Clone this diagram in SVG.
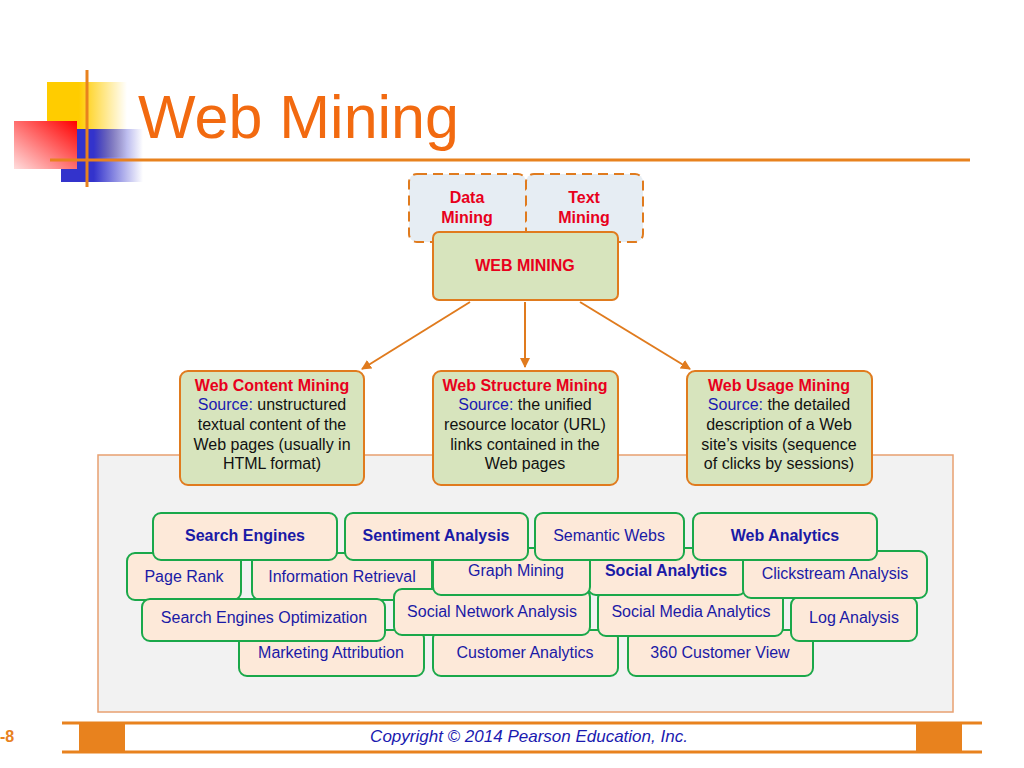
<svg xmlns="http://www.w3.org/2000/svg" width="1024" height="768" viewBox="0 0 1024 768">
<defs>
<linearGradient id="gy" x1="0" x2="1" y1="0" y2="0"><stop offset="0.4" stop-color="#ffcc00"/><stop offset="1" stop-color="#ffcc00" stop-opacity="0"/></linearGradient>
<linearGradient id="gb" x1="0" x2="1" y1="0" y2="0"><stop offset="0.4" stop-color="#3333cc"/><stop offset="1" stop-color="#3333cc" stop-opacity="0"/></linearGradient>
<linearGradient id="gr" x1="1" x2="0" y1="0" y2="1"><stop offset="0" stop-color="#ff0000"/><stop offset="1" stop-color="#ffdddd"/></linearGradient>
<marker id="ar" viewBox="0 0 10 10" refX="9" refY="5" markerWidth="5" markerHeight="5" orient="auto"><path d="M0,0L10,5L0,10z" fill="#e07b1e"/></marker>
<style>
text{font-family:"Liberation Sans",Arial,sans-serif;}
.g rect{fill:#fde9d9;stroke:#1aa84a;stroke-width:2}
.g text{fill:#1a1aa6;font-size:16px;text-anchor:middle}
.g .b{font-weight:bold}
.m rect{fill:#d7e4bd;stroke:#e07b1e;stroke-width:2}
.m text{font-size:16px;text-anchor:middle;fill:#111}
.m .h{fill:#e8001c;font-weight:bold}
.m .s{fill:#1a1ab0}
.c line{stroke:#e07b1e;stroke-width:2;marker-end:url(#ar)}
</style>
</defs>
<rect width="1024" height="768" fill="#fff"/>
<rect x="47" y="82" width="80" height="75" fill="url(#gy)"/>
<rect x="61" y="129" width="82" height="53" fill="url(#gb)"/>
<rect x="14" y="121" width="63" height="48" fill="url(#gr)"/>
<line x1="87" y1="70" x2="87" y2="187" stroke="#e8821e" stroke-width="3"/>
<line x1="50" y1="160" x2="970" y2="160" stroke="#e8821e" stroke-width="3"/>
<text x="138" y="138" font-size="61" fill="#f26a10">Web Mining</text>
<rect x="98" y="455" width="855" height="257" fill="#f2f2f2" stroke="#e8a070" stroke-width="1.5"/>
<g id="data-mining" class="m"><rect x="409" y="174" width="117" height="68" rx="8" style="fill:#e6edf3;stroke-dasharray:10,6"/><text x="467" y="203" class="h">Data</text><text x="467" y="223" class="h">Mining</text></g>
<g id="text-mining" class="m"><rect x="526" y="174" width="117" height="68" rx="8" style="fill:#e6edf3;stroke-dasharray:10,6"/><text x="584" y="203" class="h">Text</text><text x="584" y="223" class="h">Mining</text></g>
<g id="web-mining" class="m"><rect x="433" y="232" width="185" height="68" rx="6"/><text x="525" y="271" class="h">WEB MINING</text></g>
<g class="c" id="connectors">
<line x1="470" y1="302" x2="362" y2="369"/>
<line x1="525" y1="302" x2="525" y2="367"/>
<line x1="580" y1="302" x2="690" y2="369"/>
</g>
<g id="content" class="m"><rect x="180" y="371" width="184" height="114" rx="8"/><text x="272" y="391" class="h">Web Content Mining</text><text x="272" y="410"><tspan class="s">Source:</tspan> unstructured</text><text x="272" y="430">textual content of the</text><text x="272" y="450">Web pages (usually in</text><text x="272" y="469">HTML format)</text></g>
<g id="structure" class="m"><rect x="433" y="371" width="185" height="114" rx="8"/><text x="525" y="391" class="h">Web Structure Mining</text><text x="525" y="410"><tspan class="s">Source:</tspan> the unified</text><text x="525" y="430">resource locator (URL)</text><text x="525" y="450">links contained in the</text><text x="525" y="469">Web pages</text></g>
<g id="usage" class="m"><rect x="687" y="371" width="185" height="114" rx="8"/><text x="779" y="391" class="h">Web Usage Mining</text><text x="779" y="410"><tspan class="s">Source:</tspan> the detailed</text><text x="779" y="430">description of a Web</text><text x="779" y="450">site’s visits (sequence</text><text x="779" y="469">of clicks by sessions)</text></g>
<g id="marketing" class="g"><rect x="239" y="630" width="185" height="46" rx="8"/><text x="331" y="658">Marketing Attribution</text></g>
<g id="customer" class="g"><rect x="433" y="630" width="185" height="46" rx="8"/><text x="525" y="658">Customer Analytics</text></g>
<g id="view360" class="g"><rect x="628" y="630" width="185" height="46" rx="8"/><text x="720" y="658">360 Customer View</text></g>
<g id="pagerank" class="g"><rect x="127" y="553" width="114" height="47" rx="8"/><text x="184" y="582">Page Rank</text></g>
<g id="ir" class="g"><rect x="252" y="553" width="180" height="47" rx="8"/><text x="342" y="582">Information Retrieval</text></g>
<g id="seo" class="g"><rect x="142" y="599" width="243" height="42" rx="8"/><text x="264" y="623">Search Engines Optimization</text></g>
<g id="sma" class="g"><rect x="598" y="590" width="185" height="46" rx="8"/><text x="691" y="617">Social Media Analytics</text></g>
<g id="log" class="g"><rect x="791" y="597" width="126" height="44" rx="8"/><text x="854" y="623">Log Analysis</text></g>
<g id="sna" class="g"><rect x="394" y="589" width="196" height="46" rx="8"/><text x="492" y="617">Social Network Analysis</text></g>
<g id="social" class="g"><rect x="588" y="548" width="158" height="47" rx="8"/><text x="666" y="576" class="b">Social Analytics</text></g>
<g id="clickstream" class="g"><rect x="743" y="551" width="184" height="47" rx="8"/><text x="835" y="579">Clickstream Analysis</text></g>
<g id="graph" class="g"><rect x="433" y="548" width="157" height="47" rx="8"/><text x="516" y="576">Graph Mining</text></g>
<g id="semantic" class="g"><rect x="535" y="513" width="149" height="47" rx="8"/><text x="609" y="541">Semantic Webs</text></g>
<g id="search" class="g"><rect x="153" y="513" width="184" height="47" rx="8"/><text x="245" y="541" class="b">Search Engines</text></g>
<g id="sentiment" class="g"><rect x="345" y="513" width="183" height="47" rx="8"/><text x="436" y="541" class="b">Sentiment Analysis</text></g>
<g id="webanalytics" class="g"><rect x="693" y="513" width="184" height="47" rx="8"/><text x="785" y="541" class="b">Web Analytics</text></g>
<line x1="62" y1="723" x2="982" y2="723" stroke="#e8821e" stroke-width="3"/>
<line x1="62" y1="752" x2="982" y2="752" stroke="#e8821e" stroke-width="3"/>
<rect x="79" y="723" width="46" height="29" fill="#e8821e"/>
<rect x="916" y="723" width="46" height="29" fill="#e8821e"/>
<text x="529" y="742" font-size="17" font-style="italic" fill="#1a1ab0" text-anchor="middle">Copyright © 2014 Pearson Education, Inc.</text>
<text x="0" y="742" font-size="16" font-weight="bold" fill="#e8821e">-8</text>
</svg>
